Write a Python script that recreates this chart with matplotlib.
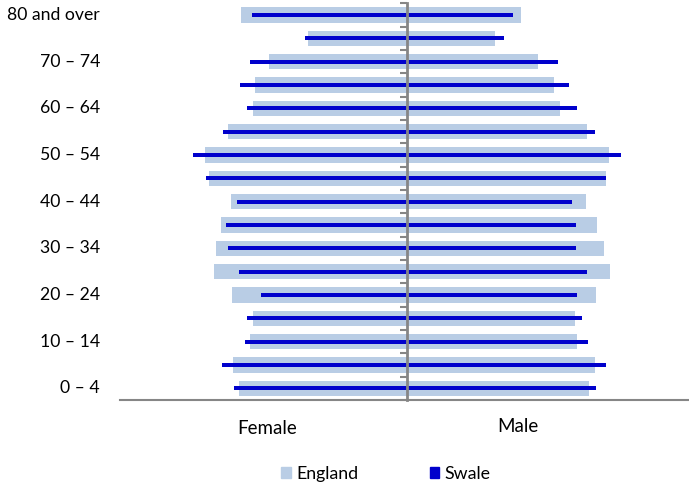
import matplotlib
matplotlib.use('Agg')
import matplotlib.pyplot as plt
import matplotlib.transforms as mtransforms
import numpy as np
from matplotlib.patches import Patch

plt.rcParams['font.family'] = ['Lato', 'DejaVu Sans']

# age bands, bottom to top
ages = ['0 – 4', '5 – 9', '10 – 14', '15 – 19', '20 – 24', '25 – 29', '30 – 34', '35 – 39',
        '40 – 44', '45 – 49', '50 – 54', '55 – 59', '60 – 64', '65 – 69', '70 – 74', '75 – 79',
        '80 and over']
shown_labels = ['0 – 4', '10 – 14', '20 – 24', '30 – 34', '40 – 44', '50 – 54', '60 – 64',
                '70 – 74', '80 and over']

# share of population (%)
england_female = [2.95, 3.05, 2.76, 2.71, 3.07, 3.38, 3.36, 3.27, 3.09, 3.47, 3.54, 3.14,
                  2.71, 2.66, 2.43, 1.73, 2.92]
england_male = [3.20, 3.30, 2.99, 2.96, 3.33, 3.57, 3.46, 3.34, 3.15, 3.51, 3.56, 3.17,
                2.70, 2.58, 2.31, 1.55, 2.01]
swale_female = [3.04, 3.25, 2.85, 2.81, 2.57, 2.95, 3.14, 3.17, 2.99, 3.53, 3.76, 3.23,
                2.81, 2.93, 2.75, 1.78, 2.72]
swale_male = [3.32, 3.50, 3.18, 3.08, 2.99, 3.16, 2.97, 2.97, 2.91, 3.50, 3.77, 3.31,
              2.99, 2.85, 2.66, 1.70, 1.86]

light = '#B9CDE5'
dark = '#0000CC'
grey = '#868686'

fig = plt.figure(figsize=(6.89, 4.86), dpi=100)
ax = fig.add_axes([120 / 689, 86 / 486, 569 / 689, 396.7 / 486])

y = np.arange(len(ages))
ax.barh(y, -np.array(england_female), height=0.66, color=light, zorder=1)
ax.barh(y, england_male, height=0.66, color=light, zorder=1)
ax.barh(y, -np.array(swale_female), height=0.17, color=dark, zorder=2)
ax.barh(y, swale_male, height=0.17, color=dark, zorder=2)

ax.set_xlim(-5.04, 4.96)
ax.set_ylim(-0.5, len(ages) - 0.5)

for s in ['top', 'right']:
    ax.spines[s].set_visible(False)
ax.spines['bottom'].set_color(grey)
ax.spines['bottom'].set_linewidth(1.5)
ax.spines['left'].set_position(('data', 0))
ax.spines['left'].set_color(grey)
ax.spines['left'].set_linewidth(2)
ax.spines['left'].set_zorder(3)
ax.set_xticks([])
ax.set_yticks(np.arange(-0.5, len(ages)))
ax.set_yticklabels([])
ax.tick_params(axis='y', length=5, width=1.5, color=grey)

trans = mtransforms.offset_copy(
    mtransforms.blended_transform_factory(ax.transAxes, ax.transData),
    fig=fig, x=-20, y=0, units='dots')
for i, lab in enumerate(ages):
    if lab in shown_labels:
        ax.text(0, i, lab, transform=trans, ha='right', va='center', fontsize=12.7, color='black')

fig.text(266.7 / 689, 1 - 428 / 486, 'Female', ha='center', va='center', fontsize=13.5)
fig.text(517.5 / 689, 1 - 426 / 486, 'Male', ha='center', va='center', fontsize=13.5)

handles = [Patch(color=light, label='England'), Patch(color=dark, label='Swale')]
fig.legend(handles=handles, loc='center', bbox_to_anchor=(386 / 689, 1 - 474 / 486), ncol=2,
           frameon=False, fontsize=12.8, handlelength=0.55, handleheight=0.55,
           handletextpad=0.3, columnspacing=4.0)

fig.savefig('out.png', dpi=100)
